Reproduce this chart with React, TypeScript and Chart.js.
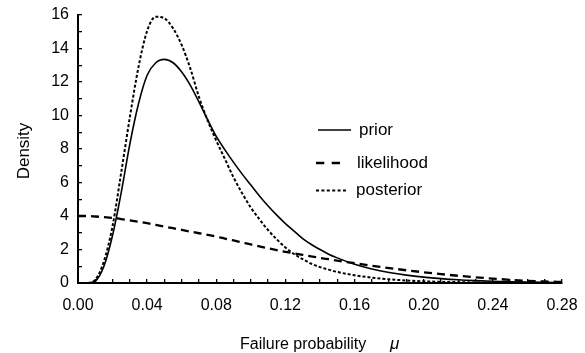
import React, { useEffect, useRef } from 'react';
import { Chart, registerables } from 'chart.js';

Chart.register(...registerables);

// Failure probability values (x)
const MU = [
  0, 0.005, 0.01, 0.015, 0.02, 0.025, 0.03, 0.035, 0.04, 0.045,
  0.05, 0.055, 0.06, 0.065, 0.07, 0.075, 0.08, 0.085, 0.09, 0.095,
  0.1, 0.105, 0.11, 0.115, 0.12, 0.125, 0.13, 0.135, 0.14, 0.145,
  0.15, 0.16, 0.17, 0.18, 0.19, 0.2, 0.21, 0.22, 0.23, 0.24,
  0.25, 0.26, 0.27, 0.28,
];

const PRIOR = [
  0, 0, 0.12, 1.0, 2.85, 5.4, 8.3, 10.7, 12.4, 13.15,
  13.35, 13.15, 12.6, 11.8, 10.8, 9.75, 8.75, 7.95, 7.2, 6.5,
  5.85, 5.2, 4.6, 4.05, 3.55, 3.1, 2.65, 2.3, 2.0, 1.72,
  1.5, 1.12, 0.84, 0.63, 0.47, 0.35, 0.26, 0.19, 0.14, 0.1,
  0.075, 0.055, 0.04, 0.03,
];

const LIKELIHOOD = [
  4.0, 4.0, 3.97, 3.93, 3.88, 3.82, 3.74, 3.66, 3.57, 3.47,
  3.37, 3.27, 3.17, 3.07, 2.97, 2.87, 2.77, 2.65, 2.54, 2.42,
  2.3, 2.19, 2.07, 1.96, 1.86, 1.77, 1.68, 1.59, 1.5, 1.42,
  1.34, 1.18, 1.03, 0.89, 0.76, 0.64, 0.53, 0.43, 0.34, 0.26,
  0.19, 0.13, 0.09, 0.06,
];

const POSTERIOR = [
  0, 0, 0.2, 1.3, 3.4, 6.6, 9.9, 12.9, 15.05, 15.9,
  15.8, 15.2, 14.2, 12.8, 11.1, 9.7, 8.5, 7.4, 6.3, 5.35,
  4.5, 3.8, 3.15, 2.6, 2.12, 1.73, 1.42, 1.15, 0.95, 0.8,
  0.66, 0.46, 0.32, 0.22, 0.15, 0.1, 0.07, 0.05, 0.03, 0.02,
  0.015, 0.01, 0.005, 0,
];

const SERIES_LABELS = ['prior', 'likelihood', 'posterior'];
const X_MIN = 0;
const X_MAX = 0.28;
const X_STEP = 0.01;
const X_LABEL_EVERY = 4;
const Y_MIN = 0;
const Y_MAX = 16;
const Y_STEP = 1;
const Y_LABEL_EVERY = 2;
const X_TITLE = 'Failure probability';
const X_SYMBOL = 'μ';
const Y_TITLE = 'Density';

const FONT = '"Liberation Sans", Arial, Helvetica, sans-serif';

const toPoints = (ys: number[]) => MU.map((x, i) => ({ x, y: ys[i] }));

const decorPlugin = {
  id: 'decor',
  afterDraw(chart: any) {
    const ctx = chart.ctx as CanvasRenderingContext2D;
    ctx.save();
    ctx.fillStyle = '#000';
    // y title
    ctx.font = `17px ${FONT}`;
    ctx.textAlign = 'center';
    ctx.textBaseline = 'middle';
    ctx.save();
    ctx.translate(24.5, 151);
    ctx.rotate(-Math.PI / 2);
    ctx.fillText(Y_TITLE, 0, 0);
    ctx.restore();
    // x title
    ctx.font = `16px ${FONT}`;
    ctx.textAlign = 'left';
    ctx.textBaseline = 'alphabetic';
    ctx.fillText(X_TITLE, 240, 348.5);
    ctx.font = `italic 17px ${FONT}`;
    ctx.fillText(X_SYMBOL, 390, 348.5);

    // legend
    const rows = [
      { y: 130, x0: 318, x1: 351, tx: 359 },
      { y: 163, x0: 316, x1: 340, tx: 357 },
      { y: 190.5, x0: 316, x1: 348, tx: 356 },
    ];
    const legendDash = [[], [8.3, 7.4], [3, 2.4]];
    chart.data.datasets.forEach((ds: any, i: number) => {
      const r = rows[i];
      ctx.beginPath();
      ctx.setLineDash(legendDash[i]);
      ctx.lineWidth = ds.borderWidth;
      ctx.strokeStyle = '#000';
      ctx.moveTo(r.x0, r.y);
      ctx.lineTo(r.x1, r.y);
      ctx.stroke();
      ctx.setLineDash([]);
      ctx.font = `17px ${FONT}`;
      ctx.textBaseline = 'middle';
      ctx.textAlign = 'left';
      ctx.fillText(ds.label, r.tx, r.y);
    });
    ctx.restore();
  },
};

export default function App() {
  const ref = useRef<HTMLCanvasElement | null>(null);

  useEffect(() => {
    document.body.style.margin = '0';
    const canvas = ref.current;
    if (!canvas) return;
    Chart.defaults.font.family = FONT;
    Chart.defaults.color = '#000';

    const common = {
      pointRadius: 0,
      pointHoverRadius: 0,
      borderColor: '#000',
      backgroundColor: '#000',
      fill: false,
      cubicInterpolationMode: 'monotone' as const,
    };

    const chart = new Chart(canvas, {
      type: 'line',
      data: {
        datasets: [
          { ...common, label: SERIES_LABELS[0], data: toPoints(PRIOR), borderWidth: 1.6 },
          { ...common, label: SERIES_LABELS[1], data: toPoints(LIKELIHOOD), borderWidth: 2.3, borderDash: [8, 5] },
          { ...common, label: SERIES_LABELS[2], data: toPoints(POSTERIOR), borderWidth: 2, borderDash: [3, 2] },
        ],
      },
      options: {
        animation: false,
        responsive: false,
        devicePixelRatio: 1,
        events: [],
        layout: { padding: { top: 15, right: 23, bottom: 0, left: 0 } },
        plugins: {
          legend: { display: false },
          tooltip: { enabled: false },
          title: { display: false },
        },
        scales: {
          x: {
            type: 'linear',
            min: X_MIN,
            max: X_MAX,
            grid: { drawOnChartArea: false, drawTicks: true, tickLength: -4, color: '#000', lineWidth: 1.3 },
            border: { display: true, color: '#000', width: 2 },
            ticks: {
              stepSize: X_STEP,
              autoSkip: false,
              maxRotation: 0,
              minRotation: 0,
              padding: 17,
              font: { size: 16, family: FONT },
              color: '#000',
              callback: (value: any, index: number) =>
                index % X_LABEL_EVERY === 0 ? Number(value).toFixed(2) : '',
            },
            afterFit: (scale: any) => {
              scale.height = 70;
              scale.paddingLeft = 0;
              scale.paddingRight = 0;
            },
          },
          y: {
            type: 'linear',
            min: Y_MIN,
            max: Y_MAX,
            grid: { drawOnChartArea: false, drawTicks: true, tickLength: -4, color: '#000', lineWidth: 1.3 },
            border: { display: true, color: '#000', width: 2 },
            ticks: {
              stepSize: Y_STEP,
              autoSkip: false,
              padding: 13,
              font: { size: 16, family: FONT },
              color: '#000',
              callback: (value: any) =>
                Math.round(Number(value)) % Y_LABEL_EVERY === 0 ? String(Math.round(Number(value))) : '',
            },
            afterFit: (scale: any) => {
              scale.width = 78;
              scale.paddingTop = 0;
              scale.paddingBottom = 0;
            },
          },
        },
      },
      plugins: [decorPlugin],
    });

    return () => chart.destroy();
  }, []);

  return (
    <div style={{ width: 585, height: 353, background: '#fff' }}>
      <canvas ref={ref} width={585} height={353} style={{ display: 'block' }} />
    </div>
  );
}
